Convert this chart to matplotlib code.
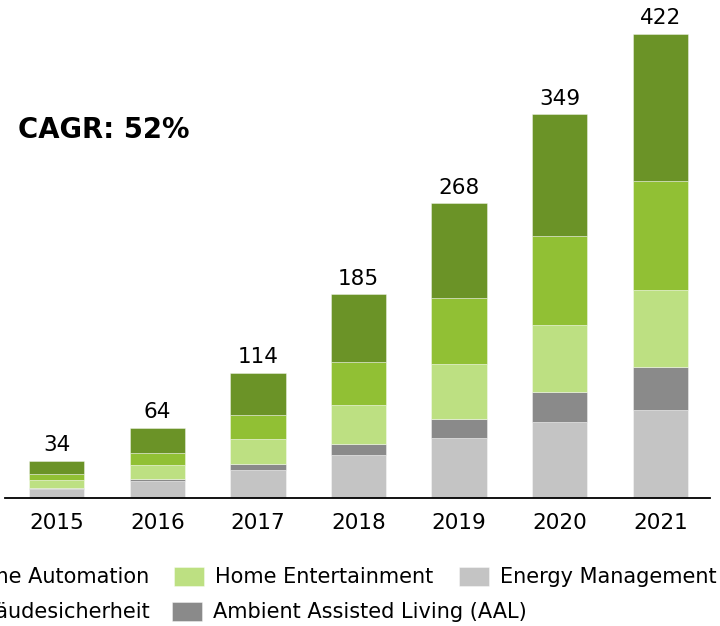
import numpy as np
import matplotlib.pyplot as plt

years = ['2015', '2016', '2017', '2018', '2019', '2020', '2021']
totals = [34, 64, 114, 185, 268, 349, 422]

# segments, bottom to top
energy = [8.5, 15.1, 25.0, 39.1, 54.5, 68.8, 79.8]
aal = [0.7, 2.2, 5.9, 10.0, 17.3, 27.6, 39.7]
entertainment = [7.0, 12.6, 22.3, 35.5, 49.7, 60.9, 70.0]
security = [5.5, 10.6, 22.0, 38.8, 60.3, 80.9, 99.1]
automation = [12.3, 23.5, 38.8, 61.6, 86.1, 110.9, 133.4]

series = [
    ('Energy Management', energy, '#c4c4c4'),
    ('Ambient Assisted Living (AAL)', aal, '#8a8a8a'),
    ('Home Entertainment', entertainment, '#bde082'),
    ('Gebäudesicherheit', security, '#91c034'),
    ('Home Automation', automation, '#6b9327'),
]

plt.rcParams['font.family'] = ['DejaVu Sans']

fig = plt.figure(figsize=(7.2, 6.26), dpi=100)
ax = fig.add_axes([5 / 720, 1 - 498 / 626, 705 / 720, 498 / 626])

x = np.arange(len(years))
bottom = np.zeros(len(years))
handles = {}
for name, vals, col in series:
    b = ax.bar(x, vals, 0.55, bottom=bottom, color=col,
               edgecolor=(1, 1, 1, 0.45), linewidth=0.6, label=name)
    handles[name] = b
    bottom += np.array(vals)

for xi, top, t in zip(x, bottom, totals):
    ax.annotate(str(t), (xi, top), xytext=(0, 3.8), textcoords='offset points',
                ha='center', va='bottom', fontsize=15.5)

ax.set_xlim(-0.514, 6.494)
ax.set_ylim(0, 452.7)
ax.set_xticks(x)
ax.set_xticklabels(years, fontsize=15.5)
ax.tick_params(axis='x', length=0, pad=10.5)
ax.set_yticks([])
for s in ['top', 'left', 'right']:
    ax.spines[s].set_visible(False)
ax.spines['bottom'].set_linewidth(1.3)
ax.spines['bottom'].set_color('black')

fig.text(18 / 720, 1 - 138.3 / 626, 'CAGR: 52%', fontsize=19.8,
         fontweight='bold', va='baseline')

leg_kw = dict(frameon=False, fontsize=15, handlelength=1.44, handleheight=1.06,
              handletextpad=0.53, borderpad=0, borderaxespad=0, loc='center left')

row1 = ['Home Automation', 'Home Entertainment', 'Energy Management']
row2 = ['Gebäudesicherheit', 'Ambient Assisted Living (AAL)']

fig.legend([handles[n] for n in row1], row1, ncol=3, columnspacing=1.2,
           bbox_to_anchor=(-81 / 720, 1 - 577 / 626), **leg_kw)
fig.legend([handles[n] for n in row2], row2, ncol=2, columnspacing=1.0,
           bbox_to_anchor=(-87 / 720, 1 - 612 / 626), **leg_kw)

plt.savefig('out.png', dpi=100)
